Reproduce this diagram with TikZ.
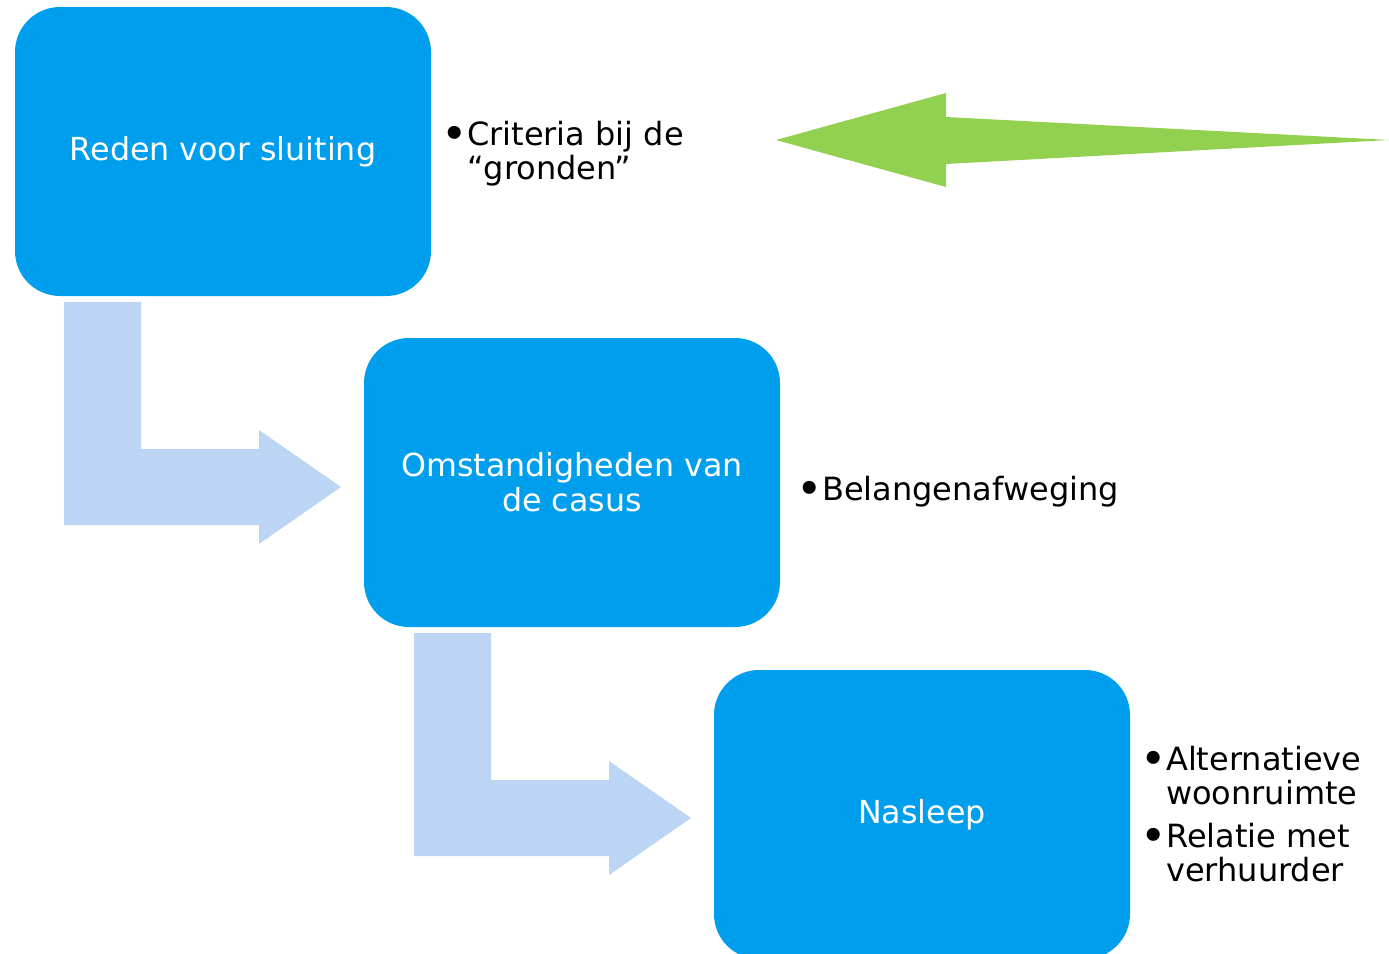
\documentclass[tikz,border=0pt]{standalone}
\usepackage{fontspec}
\setmainfont{DejaVu Sans}
\usetikzlibrary{positioning}

\definecolor{stageblue}{RGB}{0,159,238}
\definecolor{bendblue}{RGB}{189,213,245}
\definecolor{backgreen}{RGB}{146,208,80}

\newcommand{\bul}{\makebox[22pt][l]{\hspace*{-4pt}\raisebox{-4pt}{\scalebox{1.4}{•}}}}

\begin{document}
\begin{tikzpicture}[x=1pt, y=-1pt,
    stage/.style={rectangle, rounded corners=45pt, fill=stageblue, text=white, minimum width=416pt, minimum height=289pt, align=center, inner sep=0pt, font=\fontsize{31.7}{35}\selectfont},
    note/.style={anchor=base west, inner sep=0pt, font=\fontsize{32}{34}\selectfont},
    bendarrow/.style={fill=bendblue}]
            \useasboundingbox (0,0) rectangle (1389,953);
            \clip (0,0) rectangle (1389,953);
            % stages
            \node[stage] (reden) at (223,151.5) {Reden voor sluiting};
            \node[stage] (omst) at (572,482.5) {Omstandigheden van\\de casus};
            \node[stage] (nasleep) at (922,814.5) {Nasleep};
            % bent arrows
            \foreach \dx/\dy in {0/0, 350/331} {
                \fill[bendarrow, shift={(\dx,\dy)}] (64,302) -- (141,302) -- (141,449) -- (259,449) -- (259,430) -- (341,487) -- (259,544) -- (259,525) -- (64,525) -- cycle;
            }
            % back arrow
            \fill[backgreen] (776,140) -- (946,93) -- (946,117) -- (1389,140) -- (946,164) -- (946,187) -- cycle;
            % notes
            \node[note] (crit) at (445,145) {\begin{tabular}[t]{@{}l@{}l@{}}\bul & Criteria bij de\\ & “gronden”\end{tabular}};
            \node[note] (belang) at (800,500) {\bul Belangenafweging};
            \node[note] (alt) at (1144,770) {\begin{tabular}[t]{@{}l@{}l@{}}\bul & Alternatieve\\ & woonruimte\\[8pt] \bul & Relatie met\\ & verhuurder\end{tabular}};
        \end{tikzpicture}
\end{document}
